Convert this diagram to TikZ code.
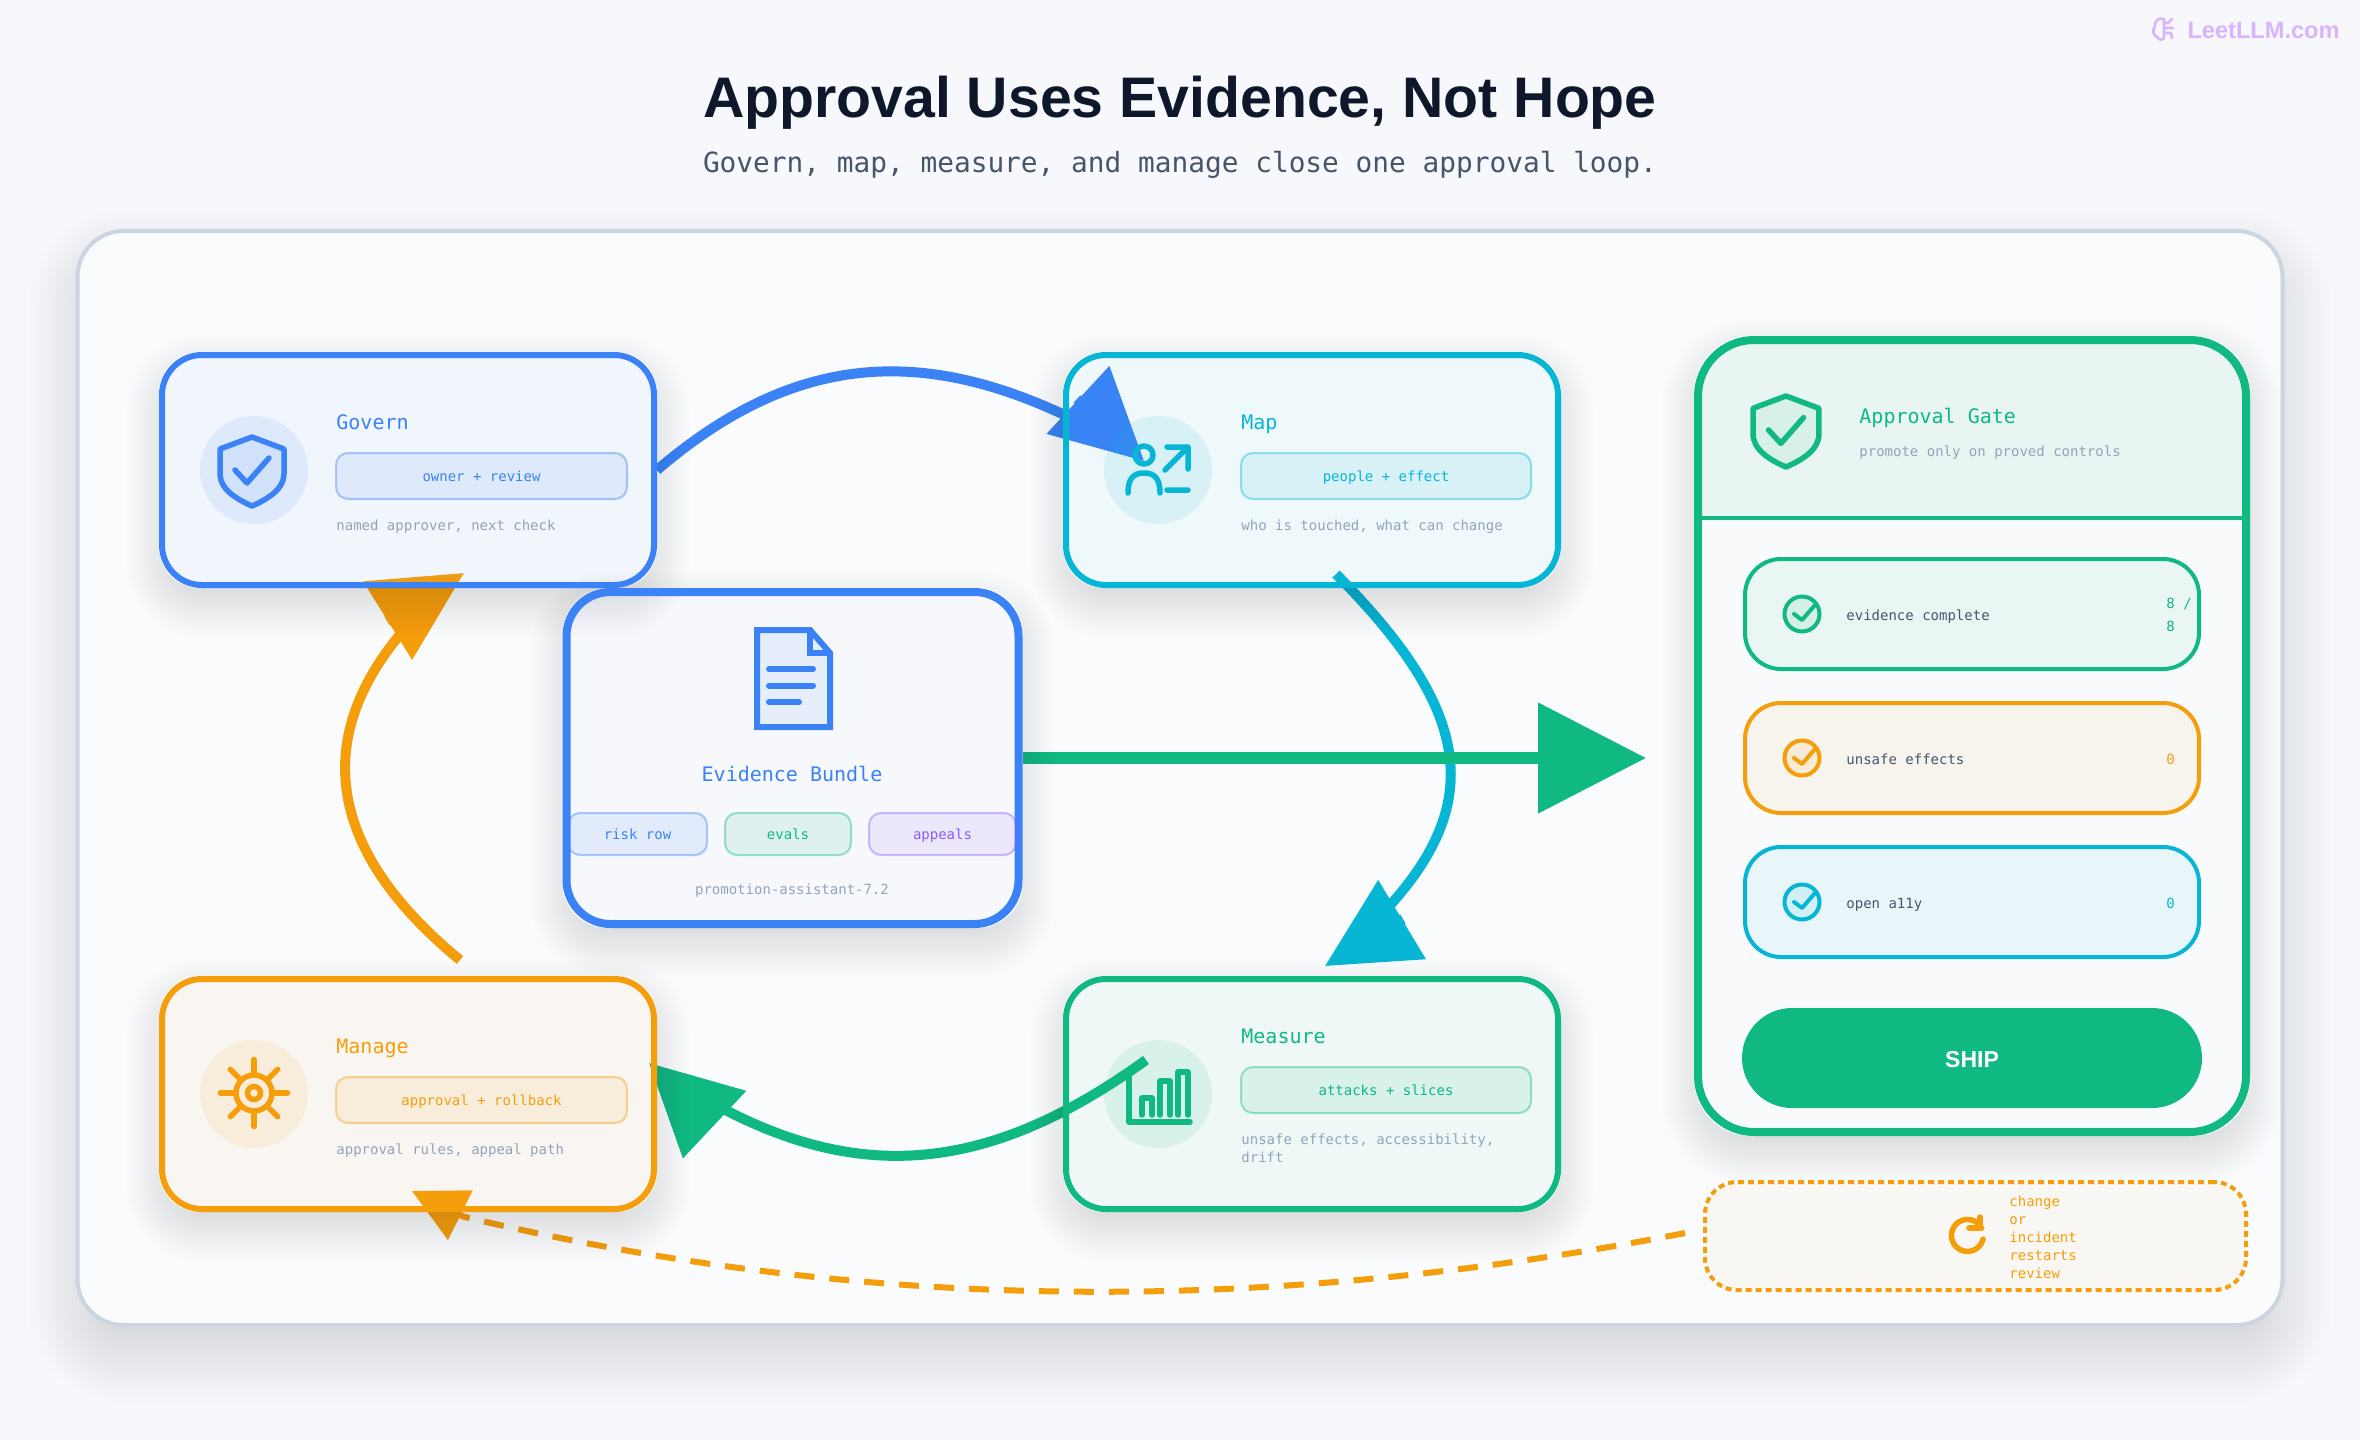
\documentclass[tikz,border=0pt]{standalone}
\usepackage{fontspec}
\setmainfont{Liberation Sans}
\setmonofont{DejaVu Sans Mono}
\usetikzlibrary{arrows.meta}

\definecolor{pagebg}{HTML}{F6F8FB}
\definecolor{panelbg}{HTML}{FAFBFD}
\definecolor{gatebg}{HTML}{F8FAFC}
\definecolor{panelline}{HTML}{CBD5E1}
\definecolor{navy}{HTML}{0F172A}
\definecolor{slate}{HTML}{475569}
\definecolor{mute}{HTML}{94A3B8}
\definecolor{blue}{HTML}{3B82F6}
\definecolor{teal}{HTML}{06B6D4}
\definecolor{green}{HTML}{10B981}
\definecolor{amber}{HTML}{F59E0B}
\definecolor{violet}{HTML}{8B5CF6}
\definecolor{lilac}{HTML}{D8B4FE}

\pgfdeclarelayer{paneldeck}
\pgfdeclarelayer{arrowdeck}
\pgfdeclarelayer{shadowdeck}
\pgfsetlayers{paneldeck,arrowdeck,shadowdeck,main}

\tikzset{
  boxsize/.style 2 args={minimum width=#1*0.5pt, minimum height=#2*0.5pt, inner sep=0pt},
  card/.style={draw=#1, fill=#1, fill opacity=.045, text opacity=1, line width=3pt, rounded corners=20pt},
  disc/.style={circle, fill=#1, fill opacity=.1, minimum size=54pt, inner sep=0pt},
  chip/.style={draw=#1, draw opacity=.4, fill=#1, fill opacity=.1, text opacity=1, text=#1, line width=1pt,
    rounded corners=6pt, text height=6pt, text depth=1pt, font=\ttfamily\fontsize{7}{9}\selectfont},
  rowbox/.style={draw=#1, fill=#1, fill opacity=.06, line width=2pt, rounded corners=18pt},
  rowdot/.style={circle, draw=#1, fill=#1, fill opacity=.1, line width=2pt, minimum size=17.5pt, inner sep=0pt},
  head/.style={anchor=mid west, inner sep=0pt, yshift=-1.5pt, text=#1, font=\ttfamily\fontsize{10}{12}\selectfont},
  note/.style={anchor=mid west, inner sep=0pt, align=left, text=mute, font=\ttfamily\fontsize{7}{9}\selectfont},
  icon/.style={draw=#1, line width=2.75pt, line cap=round, line join=round},
  flow/.style={draw=#1, line width=5pt, -{Triangle[width=45pt,length=45pt,fill=#1]}},
}

% soft drop shadow round a named node, outside it only
\newcommand{\softshadow}[5]{%
  \begin{scope}[even odd rule]
    \clip (0,0) rectangle (2360,1440) [rounded corners=#2pt] (#1.north west) rectangle (#1.south east);
    \foreach \k in {0,...,19} {
      \pgfmathsetmacro{\grw}{#4*(1-\k/9.5)}
      \pgfmathsetmacro{\rad}{max(#2+\grw,1)}
      \fill[navy, opacity=#5/20, rounded corners=\rad pt]
        ([shift={(-\grw pt,{\grw pt-#3 pt})}]#1.north west) rectangle ([shift={(\grw pt,{-\grw pt-#3 pt})}]#1.south east);
    }
  \end{scope}
}
\newcommand{\shieldmark}[4]{%
  \begin{scope}[shift={(#1,#2)}, scale=#3]
    \draw[icon=#4, fill=#4, fill opacity=.07] (0,-34) -- (32,-22) -- (32,3) .. controls (32,18) and (16,28) .. (0,35)
      .. controls (-16,28) and (-32,18) .. (-32,3) -- (-32,-22) -- cycle;
    \draw[icon=#4] (-17,-1) -- (-5,12) -- (17,-13);
  \end{scope}
}
\newcommand{\tickmark}[2]{%
  \draw[icon=#2, line width=2pt] ([shift={(-4pt,0pt)}]#1.center) -- ([shift={(0pt,-3pt)}]#1.center) -- ([shift={(6.5pt,4.5pt)}]#1.center);
}

\begin{document}
\begin{tikzpicture}[x=0.5pt, y=-0.5pt]
  \useasboundingbox (0,0) rectangle (2360,1440);

  % page and panel
  \begin{pgfonlayer}{paneldeck}
    \fill[pagebg] (0,0) rectangle (2360,1440);
    \node[boxsize={2205}{1094}, rounded corners=23pt] (panel) at (1180,778) {};
    \softshadow{panel}{23}{14}{24}{.13}
    \node[boxsize={2205}{1094}, draw=panelline, fill=panelbg, line width=2pt, rounded corners=23pt] (panelface) at (1180,778) {};
  \end{pgfonlayer}

  \node[anchor=base, text=navy, font=\bfseries\fontsize{28.6}{32}\selectfont] (title) at (1180,117) {Approval Uses Evidence, Not Hope};
  \node[anchor=base, text=slate, font=\ttfamily\fontsize{13.9}{16}\selectfont] (subtitle) at (1180,172) {Govern, map, measure, and manage close one approval loop.};
  \node[anchor=mid east, inner sep=0pt, text=lilac, font=\bfseries\fontsize{11.8}{13}\selectfont] (brand) at (2340,33) {LeetLLM.com};
  \draw[icon=lilac, line width=1.3pt] (2164,19) .. controls (2158,17) and (2154,22) .. (2155,26)
    .. controls (2152,30) and (2153,36) .. (2157,37) .. controls (2159,41) and (2164,40) .. (2164,37) -- cycle;
  \draw[icon=lilac, line width=1.3pt] (2164,28) -- (2173,28) (2164,23) -- (2168,23) -- (2172,19) (2166,33) -- (2171,33) -- (2172,38);

  % the four cards
  \node[card=blue, boxsize={492}{230}] (govern) at (408,470) {};
  \node[card=teal, boxsize={492}{230}] (map) at (1312,470) {};
  \node[card=green, boxsize={492}{230}] (measure) at (1312,1094) {};
  \node[card=amber, boxsize={492}{230}] (manage) at (408,1094) {};

  \node[disc=blue] (governdisc) at (254,470) {};
  \node[disc=teal] (mapdisc) at (1158,470) {};
  \node[disc=green] (measuredisc) at (1158,1094) {};
  \node[disc=amber] (managedisc) at (254,1094) {};

  \node[head=blue] (governname) at (336,421) {Govern};
  \node[chip=blue, boxsize={291}{46}] (governchip) at (481.5,476) {owner + review};
  \node[note] (governnote) at (336,525) {named approver, next check};

  \node[head=teal] (mapname) at (1241,421) {Map};
  \node[chip=teal, boxsize={290}{46}] (mapchip) at (1386,476) {people + effect};
  \node[note] (mapnote) at (1241,525) {who is touched, what can change};

  \node[head=green] (measurename) at (1241,1035) {Measure};
  \node[chip=green, boxsize={290}{46}] (measurechip) at (1386,1090) {attacks + slices};
  \node[note, anchor=west] (measurenote) at (1241,1148) {unsafe effects, accessibility,\\drift};

  \node[head=amber] (managename) at (336,1045) {Manage};
  \node[chip=amber, boxsize={291}{46}] (managechip) at (481.5,1100) {approval + rollback};
  \node[note] (managenote) at (336,1149) {approval rules, appeal path};

  % card icons
  \shieldmark{252}{471}{1}{blue}
  \draw[icon=teal] (1144,455) circle (4.5pt);
  \draw[icon=teal] (1128,493) .. controls (1128,478) and (1134,473) .. (1144,473) .. controls (1154,473) and (1160,478) .. (1160,493);
  \draw[icon=teal] (1165,470) -- (1188,447) (1167,447) -- (1188,447) -- (1188,469) (1167,490) -- (1188,490);
  \draw[icon=green] (1129,1073) -- (1129,1122) -- (1190,1122);
  \draw[icon=green] (1142,1115) -- (1142,1098) -- (1152,1098) -- (1152,1115);
  \draw[icon=green] (1160,1115) -- (1160,1081) -- (1170,1081) -- (1170,1115);
  \draw[icon=green] (1178,1115) -- (1178,1072) -- (1188,1072) -- (1188,1115);
  \draw[icon=amber] (254,1093) circle (9pt) (254,1093) circle (3.25pt);
  \foreach \a in {0,45,...,315} {
    \draw[icon=amber, shift={(254,1093)}] (\a:20) -- (\a:33.5);
  }

  % evidence bundle
  \node[card=blue, boxsize={452}{332}, rounded corners=22pt, line width=4pt, fill opacity=.02] (bundle) at (792.5,758) {};
  \draw[icon=blue, line width=3pt, fill=blue, fill opacity=.08, line cap=butt, line join=miter] (757,630) -- (810,630) -- (830,653) -- (830,727) -- (757,727) -- cycle;
  \draw[icon=blue, line width=3pt, line join=miter, line cap=butt] (810,630) -- (810,653) -- (830,653);
  \draw[icon=blue, line width=3pt] (769,669) -- (813,669) (769,685.5) -- (813,685.5) (769,702) -- (799,702);
  \node[head=blue, anchor=mid] (bundlename) at (792,773) {Evidence Bundle};
  \node[chip=blue, boxsize={139}{42}] (riskchip) at (637.5,834) {risk row};
  \node[chip=green, boxsize={126}{42}] (evalschip) at (788,834) {evals};
  \node[chip=violet, boxsize={147}{42}] (appealschip) at (942.5,834) {appeals};
  \node[note, anchor=mid] (bundlenote) at (792,889) {promotion-assistant-7.2};

  % approval gate
  \node[boxsize={548}{792}, draw=green, fill=gatebg, line width=4pt, rounded corners=28pt] (gate) at (1972,736) {};
  \fill[green, opacity=.065] (1698,518) [rounded corners=28pt] -- (1698,340) -- (2246,340) [sharp corners] -- (2246,518) -- cycle;
  \draw[green, line width=2pt] (gate.west |- 0,518) -- (gate.east |- 0,518);
  \shieldmark{1786}{431}{1.03}{green}
  \node[head=green] (gatename) at (1859,415) {Approval Gate};
  \node[note] (gatenote) at (1859,451) {promote only on proved controls};

  \node[rowbox=green, boxsize={454}{110}] (rowa) at (1972,614) {};
  \node[rowbox=amber, boxsize={454}{110}] (rowb) at (1972,758) {};
  \node[rowbox=teal, boxsize={454}{110}] (rowc) at (1972,902) {};
  \node[rowdot=green] (dota) at (1802,614) {};
  \node[rowdot=amber] (dotb) at (1802,758) {};
  \node[rowdot=teal] (dotc) at (1802,902) {};
  \tickmark{dota}{green}
  \tickmark{dotb}{amber}
  \tickmark{dotc}{teal}
  \node[note, text=slate] (labela) at (1846,615) {evidence complete};
  \node[note, text=slate] (labelb) at (1846,759) {unsafe effects};
  \node[note, text=slate] (labelc) at (1846,903) {open a11y};
  \node[anchor=west, inner sep=0pt, align=left, text=green, font=\ttfamily\fontsize{7}{11.5}\selectfont] (valuea) at (2166,615) {8 /\\8};
  \node[anchor=mid west, inner sep=0pt, text=amber, font=\ttfamily\fontsize{7}{9}\selectfont] (valueb) at (2166,759) {0};
  \node[anchor=mid west, inner sep=0pt, text=teal, font=\ttfamily\fontsize{7}{9}\selectfont] (valuec) at (2166,903) {0};
  \node[boxsize={460}{100}, fill=green, rounded corners=25pt, text=white, text height=9.8pt, font=\bfseries\fontsize{11.5}{13}\selectfont] (ship) at (1972,1058) {SHIP};

  % restart note
  \node[boxsize={541}{108}, draw=amber, fill=amber, fill opacity=.04, line width=2pt, dash pattern=on 3pt off 2pt, rounded corners=16pt] (restart) at (1975.5,1236) {};
  \draw[icon=amber] (1983,1239) arc[start angle=-13, end angle=-333, radius=8pt];
  \draw[icon=amber] (1980,1217) -- (1980,1228) -- (1969,1228);
  \node[note, anchor=west, text=amber] (restartnote) at (2009,1237) {change\\or\\incident\\restarts\\review};

  \coordinate (mapend) at (1083,424);
  \coordinate (mapneck) at (1077,399);
  \coordinate (mapin) at (1144,461);
  \coordinate (mapout) at (1336,574);
  \coordinate (measureend) at (1381,915);
  \coordinate (measureneck) at (1403,919);
  \coordinate (measurein) at (1325,966);
  \coordinate (measureout) at (1146,1060);
  \coordinate (manageend) at (716,1105);
  \coordinate (manageneck) at (714,1124);
  \coordinate (managein) at (649,1063);
  \coordinate (manageout) at (460,960);
  \coordinate (governend) at (410,623);
  \coordinate (governneck) at (387,621);
  \coordinate (governin) at (464,573);
  \coordinate (gatein) at (1646,758);
  \coordinate (restartout) at (1685,1233);
  \coordinate (footneck) at (463,1216.5);
  \coordinate (managefoot) at (412,1191);

  % arrows go under the cards
  \begin{pgfonlayer}{arrowdeck}
    \path[flow=blue] (govern.east) .. controls (795,352) and (925,344) .. (mapend) (mapneck) -- (mapin);
    \path[flow=teal] (mapout) .. controls (1471,710) and (1488,803) .. (measureend) (measureneck) -- (measurein);
    \path[flow=green] (measureout) .. controls (992,1171) and (864,1185) .. (manageend) (manageneck) -- (managein);
    \path[flow=amber] (manageout) .. controls (326,850) and (309,735) .. (governend) (governneck) -- (governin);
    \path[flow=green, line width=6pt, -{Triangle[width=54pt,length=54pt,fill=green]}] (bundle.east) -- (gatein);
    \path[flow=amber, line width=3pt, dash pattern=on 10pt off 7.5pt, -{Triangle[width=27pt,length=27pt,fill=amber]}]
      (restartout) .. controls (1281,1312) and (878,1316) .. (footneck) -- (managefoot);
  \end{pgfonlayer}

  \begin{pgfonlayer}{shadowdeck}
    \softshadow{govern}{20}{8}{16}{.16}
    \softshadow{map}{20}{8}{16}{.16}
    \softshadow{measure}{20}{8}{16}{.16}
    \softshadow{manage}{20}{8}{16}{.16}
    \softshadow{bundle}{22}{8}{16}{.16}
    \softshadow{gate}{28}{8}{16}{.14}
  \end{pgfonlayer}
\end{tikzpicture}
\end{document}
